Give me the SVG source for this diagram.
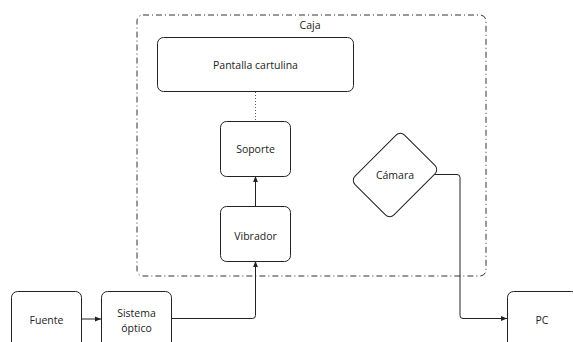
<svg xmlns="http://www.w3.org/2000/svg" width="573" height="342" viewBox="0 0 573 342">
  <style>
    .box { fill: #fff; stroke: #222; stroke-width: 1; }
    .lbl { font-family: "Open Sans", "Liberation Sans", sans-serif; font-size: 10.5px; fill: #222; text-anchor: middle; dominant-baseline: central; }
    .wire { fill: none; stroke: #222; stroke-width: 1; }
  </style>
  <defs>
    <marker id="arrow" viewBox="0 0 10 10" refX="10" refY="5" markerWidth="6" markerHeight="6" orient="auto-start-reverse" markerUnits="userSpaceOnUse">
      <path d="M0,1 L10,5 L0,9 Z" fill="#222"/>
    </marker>
  </defs>
  <rect width="573" height="342" fill="#fff"/>

  <!-- enclosure -->
  <g id="caja">
    <rect x="137" y="15" width="349" height="261" rx="6" ry="6" fill="none" stroke="#333" stroke-width="1" stroke-dasharray="6 3 1 3"/>
    <text class="lbl" x="310" y="25">Caja</text>
  </g>

  <!-- connectors -->
  <g id="connectors">
    <line x1="255.5" y1="92" x2="255.5" y2="121" stroke="#555" stroke-width="1" stroke-dasharray="1 2"/>
    <line class="wire" x1="255.5" y1="206" x2="255.5" y2="176" marker-end="url(#arrow)"/>
    <line class="wire" x1="81" y1="319" x2="101" y2="319" marker-end="url(#arrow)"/>
    <path class="wire" d="M172,318.5 H252.5 Q255.5,318.5 255.5,315.5 V261" marker-end="url(#arrow)"/>
    <path class="wire" d="M435,174.5 H457 Q460,174.5 460,177.5 V315.5 Q460,318.5 463,318.5 H507" marker-end="url(#arrow)"/>
  </g>

  <g id="pantalla">
    <rect class="box" x="157.5" y="37.5" width="196" height="54" rx="6" ry="6"/>
    <text class="lbl" x="255.5" y="65">Pantalla cartulina</text>
  </g>

  <g id="soporte">
    <rect class="box" x="220.5" y="121.5" width="70" height="55" rx="6" ry="6"/>
    <text class="lbl" x="255.5" y="149">Soporte</text>
  </g>

  <g id="vibrador">
    <rect class="box" x="220.5" y="206.5" width="70" height="55" rx="6" ry="6"/>
    <text class="lbl" x="255.5" y="236">Vibrador</text>
  </g>

  <g id="camara">
    <rect class="box" x="-35" y="-27.5" width="70" height="55" rx="6" ry="6" transform="translate(395,175) rotate(-45)"/>
    <text class="lbl" x="395" y="175">Cámara</text>
  </g>

  <g id="fuente">
    <rect class="box" x="11.5" y="291.5" width="70" height="60" rx="6" ry="6"/>
    <text class="lbl" x="46.5" y="320">Fuente</text>
  </g>

  <g id="sistema-optico">
    <rect class="box" x="101.5" y="291.5" width="70" height="60" rx="6" ry="6"/>
    <text class="lbl" x="136.5" y="313">Sistema</text>
    <text class="lbl" x="136.5" y="328">óptico</text>
  </g>

  <g id="pc">
    <rect class="box" x="507.5" y="291.5" width="70" height="60" rx="6" ry="6"/>
    <text class="lbl" x="542" y="320">PC</text>
  </g>
</svg>
